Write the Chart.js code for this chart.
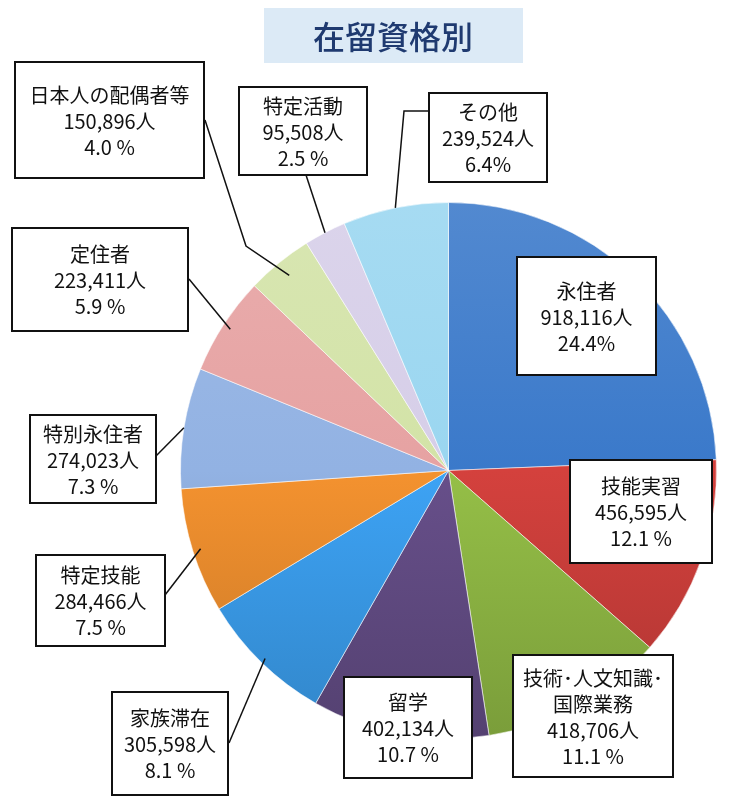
<!DOCTYPE html>
<html lang="ja">
<head>
<meta charset="utf-8">
<title>在留資格別</title>
<script src="https://cdn.jsdelivr.net/npm/chart.js@4.4.1/dist/chart.umd.min.js"></script>
<style>
  html, body { margin: 0; padding: 0; background: #fff; }
  #wrap { width: 741px; height: 807px; position: relative; }
</style>
</head>
<body>
<div id="wrap"><canvas id="canvas"></canvas></div>
<script>
const title = '在留資格別';

const categories = [
    '永住者', '技能実習', ['技術･人文知識･', '国際業務'], '留学', '家族滞在',
    '特定技能', '特別永住者', '定住者', '日本人の配偶者等', '特定活動', 'その他'
];
const residents = [918116, 456595, 418706, 402134, 305598, 284466, 274023, 223411, 150896, 95508, 239524];
const shares = ['24.4%', '12.1 %', '11.1 %', '10.7 %', '8.1 %', '7.5 %', '7.3 %', '5.9 %', '4.0 %', '2.5 %', '6.4%'];

const sliceColors = [
    '#3A79CA', '#D4413D', '#95BF47', '#674F8A', '#3DA3F5',
    '#F4922F', '#92B2E3', '#E6A2A2', '#D3E3A7', '#D6CEE8', '#9AD6F0'
];

// callout boxes: x, y, w, h, leader points (box side -> slice), reach on radius
const callouts = [
    { box: [517, 257, 139, 118] },
    { box: [570, 460, 142, 103] },
    { box: [513, 655, 160, 122] },
    { box: [344, 677, 128, 101] },
    { box: [112, 692, 116, 103], leader: [[229, 743]], reach: 0.98 },
    { box: [36, 555, 129, 91], leader: [[165, 595]], reach: 0.97 },
    { box: [30, 415, 126, 88], leader: [[155, 457]], reach: 1.0 },
    { box: [12, 228, 176, 103], leader: [[189, 279]], reach: 0.97 },
    { box: [15, 62, 189, 116], leader: [[205, 120], [246, 246]], reach: 0.94 },
    { box: [239, 87, 128, 88], leader: [[306, 175]], reach: 1.0 },
    { box: [429, 93, 118, 89], leader: [[429, 111], [404, 111]], reach: 1.0 }
];

const labelFont = '20px "Noto Sans CJK JP", "Noto Sans", sans-serif';
const lineHeight = 26;

function shade(hex, amt) {
    const n = parseInt(hex.slice(1), 16);
    let r = (n >> 16) & 255, g = (n >> 8) & 255, b = n & 255;
    const t = amt < 0 ? 0 : 255;
    const p = Math.abs(amt);
    r = Math.round(r + (t - r) * p);
    g = Math.round(g + (t - g) * p);
    b = Math.round(b + (t - b) * p);
    return 'rgb(' + r + ',' + g + ',' + b + ')';
}

const titlePlugin = {
    id: 'titleBox',
    afterDraw(chart) {
        const c = chart.ctx;
        c.save();
        c.fillStyle = '#DCEAF6';
        c.fillRect(264, 8, 259, 55);
        c.fillStyle = '#1F3A70';
        c.font = '500 32px "Noto Sans CJK JP", sans-serif';
        c.textAlign = 'center';
        c.textBaseline = 'middle';
        c.fillText(title, 393, 37);
        c.restore();
    }
};

const calloutPlugin = {
    id: 'callouts',
    afterDatasetsDraw(chart) {
        const c = chart.ctx;
        const arcs = chart.getDatasetMeta(0).data;
        c.save();
        callouts.forEach((co, i) => {
            const arc = arcs[i];
            if (co.leader) {
                const mid = (arc.startAngle + arc.endAngle) / 2;
                const r = arc.outerRadius * co.reach;
                c.beginPath();
                c.moveTo(co.leader[0][0], co.leader[0][1]);
                for (let k = 1; k < co.leader.length; k++) c.lineTo(co.leader[k][0], co.leader[k][1]);
                c.lineTo(arc.x + Math.cos(mid) * r, arc.y + Math.sin(mid) * r);
                c.strokeStyle = '#111';
                c.lineWidth = 1.5;
                c.stroke();
            }
            const [x, y, w, h] = co.box;
            c.fillStyle = '#fff';
            c.fillRect(x, y, w, h);
            c.strokeStyle = '#111';
            c.lineWidth = 2;
            c.strokeRect(x, y, w, h);

            const name = Array.isArray(categories[i]) ? categories[i] : [categories[i]];
            const lines = name.concat([residents[i].toLocaleString('en-US') + '人', shares[i]]);
            c.fillStyle = '#111';
            c.font = labelFont;
            c.textAlign = 'center';
            c.textBaseline = 'middle';
            const top = y + h / 2 + 1 - (lines.length - 1) * lineHeight / 2;
            lines.forEach((t, k) => c.fillText(t, x + w / 2, top + k * lineHeight));
        });
        c.restore();
    }
};

new Chart(document.getElementById('canvas'), {
    type: 'pie',
    data: {
        labels: categories,
        datasets: [{
            data: residents,
            backgroundColor(ctx) {
                const base = sliceColors[ctx.dataIndex];
                const area = ctx.chart.chartArea;
                if (!area) return base;
                const g = ctx.chart.ctx.createLinearGradient(0, area.top, 0, area.bottom);
                g.addColorStop(0, shade(base, 0.12));
                g.addColorStop(0.5, base);
                g.addColorStop(1, shade(base, -0.18));
                return g;
            },
            borderColor: 'rgba(255,255,255,0.55)',
            borderWidth: 1
        }]
    },
    options: {
        responsive: true,
        maintainAspectRatio: false,
        animation: false,
        events: [],
        layout: {
            padding: { left: 180, right: 24, top: 202, bottom: 68 }
        },
        plugins: {
            legend: { display: false },
            tooltip: { enabled: false }
        }
    },
    plugins: [calloutPlugin, titlePlugin]
});
</script>
</body>
</html>
